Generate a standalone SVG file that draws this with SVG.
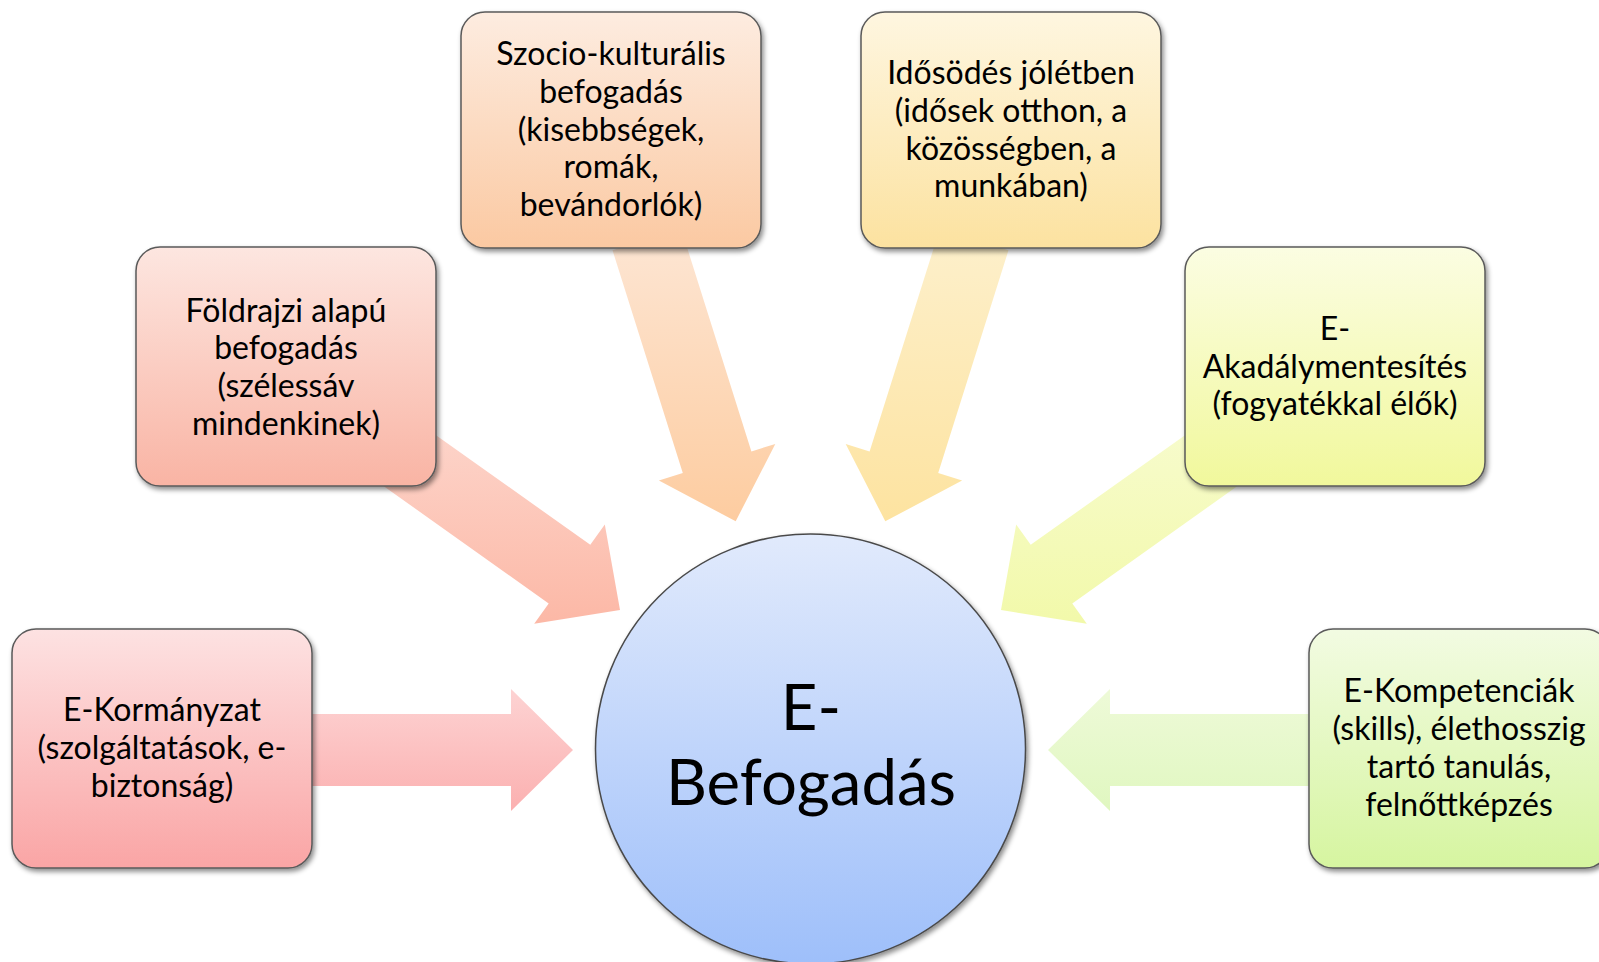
<svg xmlns="http://www.w3.org/2000/svg" width="1599" height="962" viewBox="0 0 1599 962">
<style>
.box{stroke:#5a5a5a;stroke-width:1.5;filter:url(#sh)}
.t{font-family:Lato,"Noto Sans",sans-serif;font-size:32px;fill:#000;text-anchor:middle}
.big{font-family:Lato,"Noto Sans",sans-serif;font-size:63.5px;fill:#000;text-anchor:middle}
</style>
<defs>
<filter id="sh" x="-10%" y="-10%" width="125%" height="125%">
<feDropShadow dx="2" dy="3" stdDeviation="2.5" flood-color="#000" flood-opacity="0.45"/>
</filter>
<linearGradient id="g1" x1="0" y1="0" x2="0" y2="1"><stop offset="0" stop-color="#fde2e2"/><stop offset="1" stop-color="#faa5a5"/></linearGradient>
<linearGradient id="g2" x1="0" y1="0" x2="0" y2="1"><stop offset="0" stop-color="#fde6e0"/><stop offset="1" stop-color="#f9b4a4"/></linearGradient>
<linearGradient id="g3" x1="0" y1="0" x2="0" y2="1"><stop offset="0" stop-color="#fdece0"/><stop offset="1" stop-color="#fbc9a2"/></linearGradient>
<linearGradient id="g4" x1="0" y1="0" x2="0" y2="1"><stop offset="0" stop-color="#fef6e0"/><stop offset="1" stop-color="#fce2a0"/></linearGradient>
<linearGradient id="g5" x1="0" y1="0" x2="0" y2="1"><stop offset="0" stop-color="#fbfde2"/><stop offset="1" stop-color="#f1f89c"/></linearGradient>
<linearGradient id="g6" x1="0" y1="0" x2="0" y2="1"><stop offset="0" stop-color="#f2fbe2"/><stop offset="1" stop-color="#d6f5a0"/></linearGradient>
<linearGradient id="gc" x1="0" y1="0" x2="0" y2="1"><stop offset="0" stop-color="#e1eafc"/><stop offset="1" stop-color="#9ebffa"/></linearGradient>
<linearGradient id="a1" x1="0" y1="0" x2="0" y2="1"><stop offset="0" stop-color="#fdd3d3"/><stop offset="1" stop-color="#fbb0b0"/></linearGradient>
<linearGradient id="a2" x1="0" y1="0" x2="0" y2="1"><stop offset="0" stop-color="#fdd9d0"/><stop offset="1" stop-color="#fcb8a6"/></linearGradient>
<linearGradient id="a3" x1="0" y1="0" x2="0" y2="1"><stop offset="0" stop-color="#fde6d4"/><stop offset="1" stop-color="#fdcca0"/></linearGradient>
<linearGradient id="a4" x1="0" y1="0" x2="0" y2="1"><stop offset="0" stop-color="#fdf0cc"/><stop offset="1" stop-color="#fde3a0"/></linearGradient>
<linearGradient id="a5" x1="0" y1="0" x2="0" y2="1"><stop offset="0" stop-color="#f8fcd2"/><stop offset="1" stop-color="#f2f9aa"/></linearGradient>
<linearGradient id="a6" x1="0" y1="0" x2="0" y2="1"><stop offset="0" stop-color="#eefad8"/><stop offset="1" stop-color="#e0f7c0"/></linearGradient>
</defs>
<rect width="1599" height="962" fill="#fff"/>
<g id="connectors">
<polygon fill="url(#a1)" points="303,714 511,714 511,689 573,750 511,811 511,786 303,786"/>
<polygon fill="url(#a2)" points="380,395.4 590.3,544.8 604.8,524.4 620,610 534.2,623.8 548.7,603.4 338.4,454"/>
<polygon fill="url(#a3)" points="681.1,228.6 751.4,451.4 775.3,443.9 735.7,521.3 658.9,480.5 682.8,473 612.5,250.2"/>
<polygon fill="url(#a4)" points="939.9,228.6 869.6,451.4 845.7,443.9 885.3,521.3 962.1,480.5 938.2,473 1008.5,250.2"/>
<polygon fill="url(#a5)" points="1241,395.4 1030.7,544.8 1016.2,524.4 1001,610 1086.8,623.8 1072.3,603.4 1282.6,454"/>
<polygon fill="url(#a6)" points="1318,786 1110,786 1110,811 1048,750 1110,689 1110,714 1318,714"/>
</g>
<g id="n-kormanyzat">
<rect class="box" x="12" y="629" width="300" height="239" rx="24" fill="url(#g1)"/>
<text class="t"><tspan x="162" y="721">E-Kormányzat</tspan><tspan x="162" y="759">(szolgáltatások, e-</tspan><tspan x="162" y="797">biztonság)</tspan></text>
</g>
<g id="n-foldrajzi">
<rect class="box" x="136" y="247" width="300" height="239" rx="24" fill="url(#g2)"/>
<text class="t"><tspan x="286" y="322">Földrajzi alapú</tspan><tspan x="286" y="359">befogadás</tspan><tspan x="286" y="397">(szélessáv</tspan><tspan x="286" y="435">mindenkinek)</tspan></text>
</g>
<g id="n-szocio">
<rect class="box" x="461" y="12" width="300" height="236" rx="24" fill="url(#g3)"/>
<text class="t"><tspan x="611" y="65">Szocio-kulturális</tspan><tspan x="611" y="103">befogadás</tspan><tspan x="611" y="141">(kisebbségek,</tspan><tspan x="611" y="178">romák,</tspan><tspan x="611" y="216">bevándorlók)</tspan></text>
</g>
<g id="n-idosodes">
<rect class="box" x="861" y="12" width="300" height="236" rx="24" fill="url(#g4)"/>
<text class="t"><tspan x="1011" y="84">Idősödés jólétben</tspan><tspan x="1011" y="122">(idősek otthon, a</tspan><tspan x="1011" y="160">közösségben, a</tspan><tspan x="1011" y="197">munkában)</tspan></text>
</g>
<g id="n-akadaly">
<rect class="box" x="1185" y="247" width="300" height="239" rx="24" fill="url(#g5)"/>
<text class="t"><tspan x="1335" y="340">E-</tspan><tspan x="1335" y="378">Akadálymentesítés</tspan><tspan x="1335" y="415">(fogyatékkal élők)</tspan></text>
</g>
<g id="n-kompetencia">
<rect class="box" x="1309" y="629" width="300" height="239" rx="24" fill="url(#g6)"/>
<text class="t"><tspan x="1459" y="702">E-Kompetenciák</tspan><tspan x="1459" y="740">(skills), élethosszig</tspan><tspan x="1459" y="778">tartó tanulás,</tspan><tspan x="1459" y="816">felnőttképzés</tspan></text>
</g>
<g id="n-center">
<circle cx="810.5" cy="749" r="215" fill="url(#gc)" stroke="#4a4a4a" stroke-width="1.5" filter="url(#sh)"/>
<text class="big"><tspan x="811" y="730">E-</tspan><tspan x="811" y="805">Befogadás</tspan></text>
</g>
</svg>
